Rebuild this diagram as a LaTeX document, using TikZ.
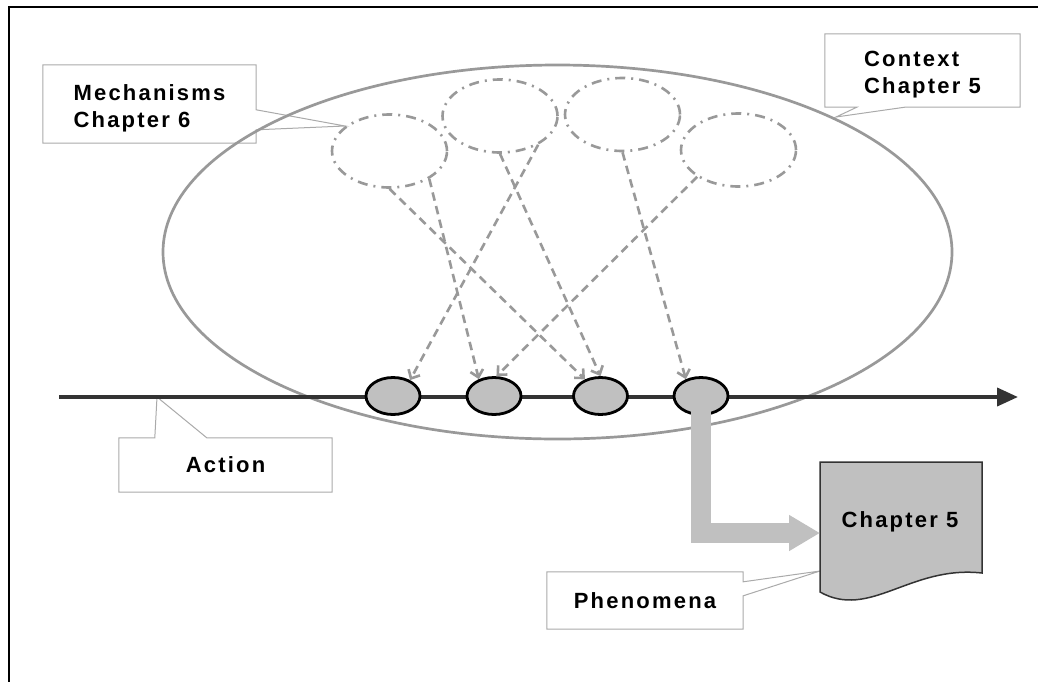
\documentclass[tikz,border=0pt]{standalone}
\usepackage{fontspec}
\newfontfamily\lblfont[LetterSpace=10]{Liberation Sans}
\usetikzlibrary{shapes.geometric,arrows.meta,calc}
\definecolor{linegray}{HTML}{999999}
\definecolor{boxgray}{HTML}{AAAAAA}
\definecolor{eventgray}{HTML}{C0C0C0}
\definecolor{axisdark}{HTML}{333333}

\begin{document}
\begin{tikzpicture}[x=1pt,y=-1pt,
  lbl/.style={font=\lblfont\bfseries\fontsize{22}{27}\selectfont, align=left, inner sep=0pt},
  labelbox/.style={inner sep=0pt},
  callout/.style={draw=boxgray, line width=1pt, line join=miter},
  mechellipse/.style={ellipse, draw=linegray, line width=2.6pt,
    dash pattern=on 10pt off 6pt on 2pt off 6pt,
    minimum width=115pt, minimum height=73pt, inner sep=0pt},
  event/.style={ellipse, draw=black, fill=eventgray, line width=2.8pt,
    minimum width=54pt, minimum height=37pt, inner sep=0pt},
  influence/.style={draw=linegray, line width=2.6pt, dash pattern=on 8.5pt off 5.5pt,
    -{Straight Barb[length=7pt,width=13pt]}},
]
\useasboundingbox (0,0) rectangle (1038,681);
\fill[white] (0,0) rectangle (1038,681);
\draw[line width=1.5pt] (9,7) rectangle (1060,700);

% callout boxes
\node[labelbox, minimum width=213pt, minimum height=78pt] (mechbox) at (149.5,104) {};
\node[labelbox, minimum width=195pt, minimum height=73pt] (ctxbox) at (922.5,70.5) {};
\node[labelbox, minimum width=213pt, minimum height=54pt] (actbox) at (225.5,465) {};
\node[labelbox, minimum width=196pt, minimum height=57pt] (phenbox) at (645,600.5) {};

\node[lbl] (mechlbl) at ($(mechbox.center)+(0,4)$) {Mechanisms\\Chapter 6};
\node[lbl] (ctxlbl) at ($(ctxbox.center)+(0,4)$) {Context\\Chapter 5};
\node[lbl] (actlbl) at (actbox.center) {Action};
\node[lbl] (phenlbl) at (phenbox.center) {Phenomena};

\coordinate (mechtip) at (345,126);
\coordinate (ctxtip) at (836,117);
\coordinate (acttip) at (157,397);
\coordinate (phentip) at (820,571);

\draw[callout] (mechbox.north west) -- (mechbox.north east)
  -- ($(mechbox.north east)+(0,45)$) -- (mechtip) -- ($(mechbox.north east)+(0,65)$)
  -- (mechbox.south east) -- (mechbox.south west) -- cycle;
\draw[callout] (ctxbox.north west) -- (ctxbox.north east) -- (ctxbox.south east)
  -- ($(ctxbox.south west)+(80,0)$) -- (ctxtip) -- ($(ctxbox.south west)+(32,0)$)
  -- (ctxbox.south west) -- cycle;
\draw[callout] (actbox.north west) -- ($(actbox.north west)+(36,0)$) -- (acttip)
  -- ($(actbox.north west)+(88,0)$) -- (actbox.north east)
  -- (actbox.south east) -- (actbox.south west) -- cycle;
\draw[callout] (phenbox.north west) -- (phenbox.north east)
  -- ($(phenbox.north east)+(0,10)$) -- (phentip) -- ($(phenbox.north east)+(0,24)$)
  -- (phenbox.south east) -- (phenbox.south west) -- cycle;

% context
\node[ellipse, draw=linegray, line width=2.7pt, minimum width=789pt,
  minimum height=374pt, inner sep=0pt] (ctx) at (557.5,252) {};

% mechanisms
\node[mechellipse] (E1) at (389.5,151) {};
\node[mechellipse] (E2) at (500,116) {};
\node[mechellipse] (E3) at (622.5,114.5) {};
\node[mechellipse] (E4) at (738.5,150) {};

% action time line
\coordinate (astart) at (59,397);
\coordinate (aend) at (1018,397);
\draw[axisdark, line width=3.8pt, -{Triangle[length=21pt,width=18pt]}] (astart) -- (aend);

% events on the action line
\node[event] (O1) at (393,396) {};
\node[event] (O2) at (494,396) {};
\node[event] (O3) at (600.5,396) {};
\node[event] (O4) at (701,396) {};

% mechanisms acting on events
\draw[influence] (E1.south) -- (O3.133);
\draw[influence] (E1.-35) -- (O2.132);
\draw[influence] (E2.south) -- (O3.90);
\draw[influence] (E2.-37) -- (O1.43);
\draw[influence] (E3.south) -- (O4.132);
\draw[influence] (E4.-147) -- (O2.83);

% phenomena document
\draw[draw=axisdark, fill=eventgray, line width=1.5pt] (820,462) -- (982,462) -- (982,573)
  .. controls (910,565) and (870,620) .. (820,592) -- cycle;
\node[lbl] (doc) at (900,522) {Chapter 5};

% result arrow
\coordinate (docin) at (820,533);
\draw[eventgray, line width=20pt, -{Triangle[length=31pt,width=34pt]}] (O4.center) |- (docin);
\end{tikzpicture}
\end{document}
